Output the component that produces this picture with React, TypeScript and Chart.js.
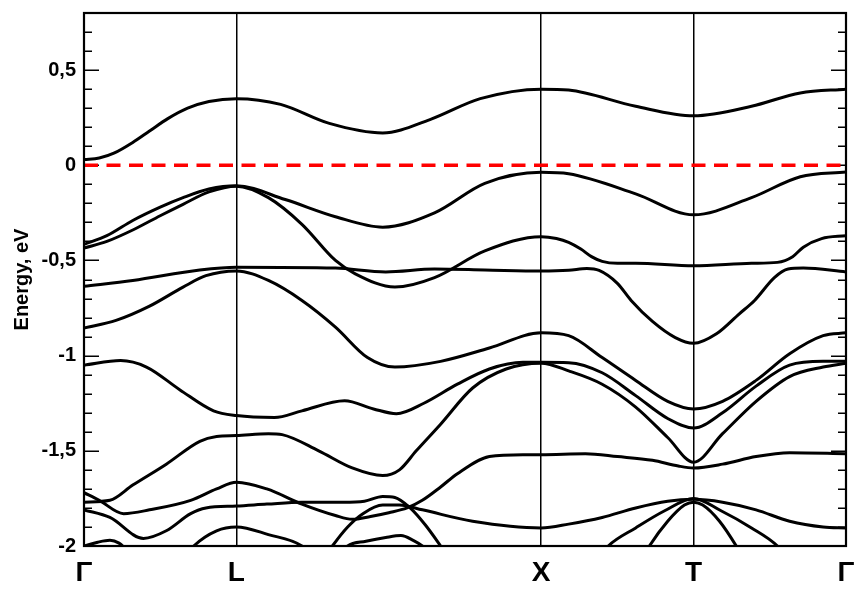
import { useEffect, useRef } from 'react';
import { Chart, registerables } from 'chart.js';

Chart.register(...registerables);

// High-symmetry points along the k-path
const kPointPositions = [0, 1, 3, 4, 5];
const kPointLabels = ['Γ', 'L', 'X', 'T', 'Γ'];

// Energy axis (eV)
const energyMin = -2;
const energyMax = 0.8;
const energyStep = 0.1;
const fermiLevel = 0;

// Bands: [k, E (eV)]
const bandC: [number, number][] = [
  [0, 0.03], [0.1, 0.038], [0.2, 0.065], [0.32, 0.12], [0.43, 0.18], [0.55, 0.245], [0.68, 0.3],
  [0.82, 0.335], [1, 0.35], [1.29, 0.32], [1.61, 0.22], [1.96, 0.17], [2.27, 0.24], [2.6, 0.35],
  [3, 0.4], [3.18, 0.395], [3.62, 0.31], [4, 0.26], [4.38, 0.31], [4.7, 0.38], [5, 0.4],
];
const bandV1: [number, number][] = [
  [0, -0.415], [0.15, -0.37], [0.32, -0.29], [0.5, -0.22], [0.65, -0.17], [0.82, -0.125],
  [1, -0.108], [1.32, -0.18], [1.65, -0.27], [1.96, -0.325], [2.3, -0.25], [2.63, -0.095],
  [3, -0.037], [3.18, -0.045], [3.62, -0.15], [4, -0.26], [4.38, -0.17], [4.7, -0.06], [5, -0.035],
];
const bandV2: [number, number][] = [
  [0, -0.435], [0.15, -0.4], [0.32, -0.34], [0.5, -0.265], [0.65, -0.205], [0.82, -0.14],
  [1, -0.11], [1.21, -0.17], [1.43, -0.31], [1.65, -0.5], [1.78, -0.57], [2.04, -0.64],
  [2.3, -0.59], [2.63, -0.45], [3, -0.375], [3.1, -0.385], [3.18, -0.405], [3.26, -0.44],
  [3.33, -0.48], [3.4, -0.505], [3.5, -0.515], [3.62, -0.515], [4, -0.528], [4.38, -0.515],
  [4.55, -0.51], [4.65, -0.48], [4.72, -0.43], [4.84, -0.385], [5, -0.37],
];
const bandV3: [number, number][] = [
  [0, -0.636], [0.32, -0.605], [0.76, -0.55], [1, -0.535], [1.65, -0.54], [1.98, -0.56],
  [2.3, -0.545], [2.63, -0.55], [3, -0.556], [3.18, -0.552], [3.3, -0.542], [3.38, -0.552],
  [3.5, -0.62], [3.59, -0.71], [3.73, -0.82], [3.88, -0.905], [4, -0.935], [4.15, -0.885],
  [4.3, -0.78], [4.4, -0.71], [4.53, -0.59], [4.62, -0.545], [4.72, -0.54], [5, -0.56],
];
const bandV4: [number, number][] = [
  [0, -0.855], [0.21, -0.815], [0.43, -0.74], [0.65, -0.64], [0.8, -0.58], [1, -0.555],
  [1.21, -0.605], [1.43, -0.71], [1.65, -0.85], [1.86, -1.01], [2.04, -1.06], [2.34, -1.03],
  [2.66, -0.96], [3, -0.88], [3.18, -0.895], [3.4, -1.01], [3.62, -1.13], [3.83, -1.24],
  [4, -1.28], [4.19, -1.24], [4.41, -1.13], [4.63, -0.99], [4.85, -0.895], [5, -0.88],
];
const bandV5: [number, number][] = [
  [0, -1.05], [0.24, -1.026], [0.41, -1.06], [0.63, -1.18], [0.85, -1.29], [1, -1.315],
  [1.25, -1.325], [1.43, -1.29], [1.71, -1.237], [1.9, -1.28], [2.05, -1.305], [2.23, -1.25],
  [2.45, -1.15], [2.66, -1.07], [2.88, -1.035], [3, -1.035], [3.18, -1.037], [3.4, -1.09],
  [3.62, -1.21], [3.83, -1.33], [4, -1.38], [4.19, -1.3], [4.41, -1.16], [4.63, -1.05],
  [4.85, -1.03], [5, -1.03],
];
const bandV6: [number, number][] = [
  [0, -1.77], [0.17, -1.76], [0.32, -1.68], [0.54, -1.57], [0.76, -1.45], [0.87, -1.425],
  [1, -1.42], [1.21, -1.41], [1.3, -1.415], [1.54, -1.5], [1.76, -1.59], [1.96, -1.63],
  [2.07, -1.6], [2.18, -1.5], [2.34, -1.36], [2.55, -1.17], [2.77, -1.07], [3, -1.04],
  [3.18, -1.08], [3.4, -1.15], [3.62, -1.27], [3.83, -1.43], [4, -1.56], [4.19, -1.41],
  [4.41, -1.24], [4.63, -1.11], [4.85, -1.06], [5, -1.04],
];
const bandV7: [number, number][] = [
  [0, -1.72], [0.1, -1.76], [0.26, -1.83], [0.43, -1.81], [0.7, -1.76], [0.87, -1.7],
  [1, -1.665], [1.2, -1.7], [1.43, -1.78], [1.65, -1.84], [1.76, -1.86], [1.88, -1.845],
  [2, -1.825], [2.12, -1.8], [2.22, -1.76], [2.34, -1.69], [2.45, -1.62], [2.66, -1.53],
  [2.88, -1.52], [3, -1.52], [3.29, -1.515], [3.5, -1.53], [3.73, -1.55], [3.9, -1.58],
  [4, -1.59], [4.19, -1.57], [4.41, -1.53], [4.63, -1.51], [5, -1.515],
];
const bandV8: [number, number][] = [
  [0, -1.81], [0.17, -1.85], [0.39, -1.96], [0.54, -1.92], [0.7, -1.83], [0.8, -1.8],
  [1, -1.79], [1.2, -1.78], [1.43, -1.77], [1.7, -1.77], [1.84, -1.765], [1.96, -1.74],
  [2.04, -1.745], [2.14, -1.8], [2.24, -1.89], [2.34, -2.0], [2.4, -2.07],
];
const bandV9: [number, number][] = [
  [1.58, -2.06], [1.63, -2.0], [1.73, -1.9], [1.83, -1.83], [1.96, -1.785], [2.07, -1.785],
  [2.22, -1.81], [2.55, -1.87], [3, -1.905], [3.18, -1.885], [3.4, -1.85], [3.62, -1.8],
  [3.83, -1.765], [4, -1.755], [4.19, -1.77], [4.41, -1.81], [4.63, -1.87], [4.85, -1.9],
  [5, -1.905],
];
const bandV10: [number, number][] = [
  [1.68, -2.05], [1.73, -2.0], [1.85, -1.975], [1.98, -1.955], [2.08, -1.945], [2.16, -1.97],
  [2.22, -2.0], [2.27, -2.04],
];
const bandGammaLow: [number, number][] = [
  [0, -2.0], [0.09, -1.98], [0.17, -1.97], [0.23, -1.985], [0.28, -2.02],
];
const bandLLow: [number, number][] = [
  [0.67, -2.05], [0.72, -2.0], [0.87, -1.92], [1, -1.9], [1.21, -1.94], [1.43, -2.0], [1.48, -2.04],
];
const bandTWide: [number, number][] = [
  [3.38, -2.06], [3.44, -2.0], [3.62, -1.905], [3.81, -1.815], [4, -1.75], [4.18, -1.815],
  [4.38, -1.905], [4.55, -2.0], [4.61, -2.06],
];
const bandTNarrow: [number, number][] = [
  [3.66, -2.07], [3.71, -2.0], [3.83, -1.87], [3.94, -1.785], [4, -1.77], [4.06, -1.785],
  [4.17, -1.87], [4.28, -2.0], [4.33, -2.07],
];

const bands = [
  bandC, bandV1, bandV2, bandV3, bandV4, bandV5, bandV6, bandV7, bandV8, bandV9, bandV10,
  bandGammaLow, bandLLow, bandTWide, bandTNarrow,
];

const FONT = "'Liberation Sans', Arial, Helvetica, sans-serif";

const isMajor = (v: number) => Math.abs(v * 2 - Math.round(v * 2)) < 1e-6;
const formatEnergy = (v: number) => String(Math.round(v * 10) / 10).replace('.', ',');

const framePlugin = {
  id: 'frameTicks',
  beforeDatasetsDraw(chart: any) {
    const { ctx, chartArea: a, scales } = chart;
    const y = scales.y;
    ctx.save();
    ctx.strokeStyle = '#000';
    ctx.lineWidth = 1.5;
    y.ticks.forEach((t: any) => {
      const py = Math.round(y.getPixelForValue(t.value)) + 0.25;
      const len = isMajor(t.value) ? 15 : 8;
      ctx.beginPath();
      ctx.moveTo(a.left, py);
      ctx.lineTo(a.left + len, py);
      ctx.moveTo(a.right, py);
      ctx.lineTo(a.right - len, py);
      ctx.stroke();
    });
    ctx.restore();
  },
  afterDatasetsDraw(chart: any) {
    const { ctx, chartArea: a } = chart;
    ctx.save();
    ctx.strokeStyle = '#000';
    ctx.lineWidth = 2.2;
    ctx.strokeRect(a.left, a.top, a.right - a.left, a.bottom - a.top);
    ctx.restore();
  },
};

export default function App() {
  const canvasRef = useRef<HTMLCanvasElement>(null);

  useEffect(() => {
    document.body.style.margin = '0';
    const canvas = canvasRef.current;
    if (!canvas) return;

    const fermiData = [
      { x: kPointPositions[0], y: fermiLevel },
      { x: kPointPositions[kPointPositions.length - 1], y: fermiLevel },
    ];

    const chart = new Chart(canvas, {
      type: 'line',
      data: {
        datasets: [
          {
            data: fermiData,
            borderColor: '#ff0000',
            borderWidth: 3.5,
            borderDash: [14, 8.5],
            pointRadius: 0,
            fill: false,
            clip: 0,
          } as any,
          ...bands.map((b) => ({
            data: b.map(([x, y]) => ({ x, y })),
            borderColor: '#000000',
            borderWidth: 3,
            pointRadius: 0,
            fill: false,
            cubicInterpolationMode: 'monotone',
            clip: 0,
          })) as any,
        ],
      },
      options: {
        animation: false,
        responsive: false,
        maintainAspectRatio: false,
        layout: { padding: { left: 0, right: 22, top: 13, bottom: 0 } },
        plugins: { legend: { display: false }, tooltip: { enabled: false } },
        scales: {
          x: {
            type: 'linear',
            min: kPointPositions[0],
            max: kPointPositions[kPointPositions.length - 1],
            afterBuildTicks: (s: any) => {
              s.ticks = kPointPositions.map((v) => ({ value: v }));
            },
            afterFit: (s: any) => {
              s.height = 54;
              s.paddingLeft = 0;
              s.paddingRight = 0;
            },
            ticks: {
              autoSkip: false,
              maxRotation: 0,
              padding: 10,
              color: '#000',
              font: { family: FONT, size: 28, weight: 'bold' },
              callback: (v: any) => {
                const i = kPointPositions.indexOf(Number(v));
                return i >= 0 ? kPointLabels[i] : '';
              },
            },
            grid: { color: '#000', lineWidth: 1.5, drawTicks: false },
            border: { display: false },
          },
          y: {
            type: 'linear',
            min: energyMin,
            max: energyMax,
            afterBuildTicks: (s: any) => {
              const n = Math.round((energyMax - energyMin) / energyStep);
              const t = [];
              for (let i = 0; i <= n; i++) t.push({ value: Math.round((energyMin + i * energyStep) * 10) / 10 });
              s.ticks = t;
            },
            afterFit: (s: any) => {
              s.width = 84;
              s.paddingTop = 0;
              s.paddingBottom = 0;
            },
            ticks: {
              autoSkip: false,
              padding: 8,
              color: '#000',
              font: { family: FONT, size: 20, weight: 'bold' },
              callback: (v: any) => {
                const n = Number(v);
                return isMajor(n) && n <= 0.5 + 1e-6 ? formatEnergy(n) : '';
              },
            },
            grid: { display: false, drawTicks: false },
            border: { display: false },
            title: {
              display: true,
              text: 'Energy, eV',
              color: '#000',
              font: { family: FONT, size: 20, weight: 'bold' },
              padding: { top: 10, bottom: 0 },
            },
          },
        },
      } as any,
      plugins: [framePlugin],
    });

    return () => chart.destroy();
  }, []);

  return (
    <div style={{ width: 868, height: 600 }}>
      <canvas ref={canvasRef} width={868} height={600} style={{ display: 'block' }} />
    </div>
  );
}
